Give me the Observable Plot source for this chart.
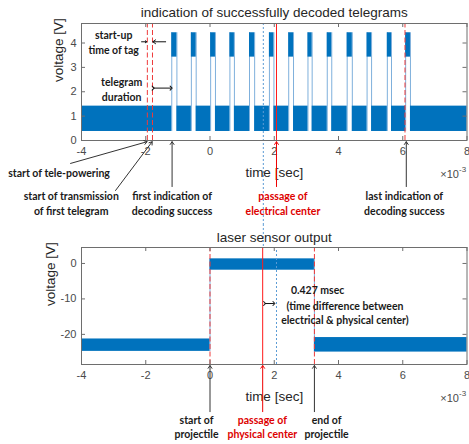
<!DOCTYPE html>
<html><head><meta charset="utf-8">
<script src="https://cdn.jsdelivr.net/npm/d3@7"></script>
<script src="https://cdn.jsdelivr.net/npm/@observablehq/plot@0.6"></script>
<style>body{margin:0;background:#fff} svg{display:block}</style>
</head><body><div id="c"></div>
<script>
// ---- data (time in units of 1e-3 s) ----
const xTicks = [-4, -2, 0, 2, 4, 6, 8];
const topYTicks = [0, 1, 2, 3, 4];
const botYTicks = [-20, -10, 0];
const topTitle = "indication of successfully decoded telegrams";
const botTitle = "laser sensor output";
const xLabel = "time [sec]";
const yLabel = "voltage [V]";

// top: decoded-telegram indication pulses
const pulseStart = [-1.19, -0.58, 0.02, 0.62, 1.23, 1.85, 2.45, 3.05, 3.65, 4.27, 4.89, 5.52, 6.09];
const pulseEnd   = [-1.03, -0.43, 0.17, 0.76, 1.39, 1.99, 2.60, 3.18, 3.79, 4.43, 5.03, 5.65, 6.24];
const lowBand  = [0.37, 1.41];   // noisy idle level (min, max)
const highBand = [3.42, 4.42];   // noisy indication level (min, max)

// bottom: laser sensor output segments
const laserStart = [-4, 0, 3.25];
const laserEnd   = [0, 3.25, 8];
const laserMin   = [-24.8, -1.9, -25.0];
const laserMax   = [-21.3, 1.3, -20.9];

// markers
const topRedDashed = [-1.95, -1.79, 6.07];
const topRedSolid = [2.07];
const topBlueDotted = [1.66];
const botRedDashed = [0, 3.25];
const botRedSolid = [1.64];
const botBlueDotted = [2.07];

// annotations
const topNotes = [
  {text: "start of tele-powering", x: -4.70, y: -1.30, c: "#1a1a1a"},
  {text: "start of transmission\nof first telegram", x: -4.32, y: -2.56, c: "#1a1a1a"},
  {text: "first indication of\ndecoding success", x: -1.18, y: -2.56, c: "#1a1a1a"},
  {text: "passage of\nelectrical center", x: 2.27, y: -2.56, c: "#dd0000"},
  {text: "last indication of\ndecoding success", x: 6.05, y: -2.56, c: "#1a1a1a"},
  {text: "start-up\ntime of tag", x: -3.00, y: 4.04, c: "#1a1a1a"},
  {text: "telegram\nduration", x: -2.75, y: 2.11, c: "#1a1a1a"}
];
const topArrows = [
  {x1: -4.34, y1: -0.94, x2: -1.96, y2: -0.05, c: "#333"},
  {x1: -2.94, y1: -2.05, x2: -1.80, y2: -0.05, c: "#333"},
  {x1: -1.18, y1: -1.89, x2: -1.18, y2: -0.05, c: "#333"},
  {x1: 2.07, y1: -1.89, x2: 2.07, y2: -0.05, c: "#ee0000"},
  {x1: 6.11, y1: -1.89, x2: 6.11, y2: -0.05, c: "#333"},
  {x1: -2.13, y1: 4.05, x2: -1.97, y2: 4.05, c: "#111"},
  {x1: -1.38, y1: 4.05, x2: -1.78, y2: 4.05, c: "#111"}
];
const topDouble = [{x1: -1.77, x2: -1.21, y: 2.15}];

const botNotes = [
  {text: "0.427 msec", x: 3.35, y: -7.4, c: "#1a1a1a", a: "start"},
  {text: "(time difference between\nelectrical & physical center)", x: 4.20, y: -13.75, c: "#1a1a1a", a: "middle"},
  {text: "start of\nprojectile", x: -0.42, y: -45.9, c: "#1a1a1a", a: "middle"},
  {text: "passage of\nphysical center", x: 1.63, y: -45.9, c: "#dd0000", a: "middle"},
  {text: "end of\nprojectile", x: 3.63, y: -45.9, c: "#1a1a1a", a: "middle"}
];
const botArrows = [
  {x1: 0, y1: -41.8, x2: 0, y2: -28.8, c: "#333"},
  {x1: 1.64, y1: -41.8, x2: 1.64, y2: -28.8, c: "#ee0000"},
  {x1: 3.25, y1: -41.8, x2: 3.25, y2: -28.8, c: "#333"}
];
const botDouble = [{x1: 1.70, x2: 1.99, y: -11.3}];

// ---- styles ----
const W = 469;
const ML = 81, MR = 2.5;
const BLUE = "#0072BD", EDGE = "#7fb0dc", FRAME = "#6e6e6e", TICKTXT = "#4a4a4a", TXT = "#262626";
const noteFont = "Lato, 'Open Sans', sans-serif";
const fw = W - ML - MR;

function dashed(vals, y1, y2) {
  return Plot.ruleX(vals, {x: d => d, y1, y2, stroke: "#ee3b3b", strokeWidth: 1, strokeDasharray: "5,2.5"});
}

function commonAxes(yTicks, fh) {
  return [
    Plot.frame({stroke: FRAME, strokeWidth: 1}),
    Plot.tickX(xTicks, {x: d => d, insetTop: fh - 4, stroke: FRAME}),
    Plot.tickX(xTicks, {x: d => d, insetBottom: fh - 4, stroke: FRAME}),
    Plot.tickY(yTicks, {y: d => d, insetRight: fw - 4, stroke: FRAME}),
    Plot.tickY(yTicks, {y: d => d, insetLeft: fw - 4, stroke: FRAME}),
    Plot.axisX(xTicks, {anchor: "bottom", tickSize: 0, tickPadding: 7, tickFormat: d => String(d), fill: TICKTXT, label: null, fontSize: 11}),
    Plot.axisY(yTicks, {anchor: "left", tickSize: 0, tickPadding: 5, tickFormat: d => String(d), fill: TICKTXT, label: null, fontSize: 11}),
    Plot.text([xLabel], {frameAnchor: "bottom", lineAnchor: "middle", dy: 32, fill: TXT, fontSize: 13.5, text: d => d}),
    Plot.text(["×10"], {frameAnchor: "bottom-right", lineAnchor: "middle", dx: -8, dy: 34, textAnchor: "end", fill: TICKTXT, fontSize: 11, text: d => d}),
    Plot.text(["-3"], {frameAnchor: "bottom-right", lineAnchor: "middle", dx: -8, dy: 29, textAnchor: "start", fill: TICKTXT, fontSize: 8, text: d => d})
  ];
}

// ---------- TOP ----------
const lowSegs = [{x1: -4, x2: pulseStart[0]}];
pulseStart.forEach((s, i) => lowSegs.push({x1: pulseEnd[i], x2: i + 1 < pulseStart.length ? pulseStart[i + 1] : 8}));
const highSegs = pulseStart.map((s, i) => ({x1: s, x2: pulseEnd[i]}));
const edges = pulseStart.concat(pulseEnd);

const topH = 224, topMT = 23, topMB = 84;
const topFH = topH - topMT - topMB;
const chartTop = Plot.plot({
  width: W, height: topH,
  marginLeft: ML, marginRight: MR, marginTop: topMT, marginBottom: topMB,
  style: {fontFamily: "'Liberation Sans', Arial, sans-serif", fontSize: "11px", background: "#fff"},
  x: {domain: [-4, 8]},
  y: {domain: [0, 4.8]},
  marks: [
    Plot.ruleX(edges, {x: d => d, y1: lowBand[0], y2: highBand[1], stroke: EDGE, strokeWidth: 1}),
    Plot.rect(lowSegs, {x1: "x1", x2: "x2", y1: lowBand[0], y2: lowBand[1], fill: BLUE}),
    Plot.rect(highSegs, {x1: "x1", x2: "x2", y1: highBand[0], y2: highBand[1], fill: BLUE}),
    Plot.ruleX(topBlueDotted, {x: d => d, y1: 4.8, y2: -3.5, stroke: "#5b9bd5", strokeWidth: 1, strokeDasharray: "2,2"}),
    dashed(topRedDashed, 0, 4.8),
    Plot.ruleX(topRedSolid, {x: d => d, y1: 0, y2: 4.8, stroke: "#ff1a1a", strokeWidth: 1}),
    ...commonAxes(topYTicks, topFH),
    Plot.text([yLabel], {frameAnchor: "left", dx: -23, rotate: -90, fill: TXT, fontSize: 13.5, text: d => d}),
    Plot.text([topTitle], {frameAnchor: "top", lineAnchor: "middle", dy: -11, fill: TXT, fontSize: 13.5, text: d => d}),
    Plot.arrow(topArrows, {x1: "x1", y1: "y1", x2: "x2", y2: "y2", stroke: "c", strokeWidth: 1, headLength: 5, headAngle: 70}),
    Plot.link(topDouble, {x1: "x1", x2: "x2", y1: "y", y2: "y", stroke: "#111", strokeWidth: 1, markerStart: "arrow", markerEnd: "arrow"}),
    Plot.text(topNotes, {x: "x", y: "y", text: "text", fill: "c", fontFamily: noteFont, fontSize: 10.5, fontWeight: "bold", lineHeight: 1.42})
  ]
});

// ---------- BOTTOM ----------
const laserSegs = laserStart.map((s, i) => ({x1: s, x2: laserEnd[i], y1: laserMin[i], y2: laserMax[i]}));
const botH = 220, botMT = 23, botMB = 80;
const botFH = botH - botMT - botMB;
const chartBottom = Plot.plot({
  width: W, height: botH,
  marginLeft: ML, marginRight: MR, marginTop: botMT, marginBottom: botMB,
  style: {fontFamily: "'Liberation Sans', Arial, sans-serif", fontSize: "11px", background: "#fff"},
  x: {domain: [-4, 8]},
  y: {domain: [-28.5, 4.5]},
  marks: [
    Plot.ruleX([laserEnd[0], laserEnd[1]], {x: d => d, y1: -24.8, y2: 1.3, stroke: EDGE, strokeWidth: 1}),
    Plot.rect(laserSegs, {x1: "x1", x2: "x2", y1: "y1", y2: "y2", fill: BLUE}),
    Plot.ruleX(topBlueDotted, {x: d => d, y1: 11.0, y2: 4.5, stroke: "#5b9bd5", strokeWidth: 1, strokeDasharray: "2,2"}),
    Plot.ruleX(botBlueDotted, {x: d => d, y1: -28.5, y2: 4.5, stroke: "#5b9bd5", strokeWidth: 1, strokeDasharray: "2,2"}),
    dashed(botRedDashed, -28.5, 4.5),
    Plot.ruleX(botRedSolid, {x: d => d, y1: -28.5, y2: 4.5, stroke: "#ff1a1a", strokeWidth: 1}),
    ...commonAxes(botYTicks, botFH),
    Plot.text([yLabel], {frameAnchor: "left", dx: -31, rotate: -90, fill: TXT, fontSize: 13.5, text: d => d}),
    Plot.text([botTitle], {frameAnchor: "top", lineAnchor: "middle", dy: -10, fill: TXT, fontSize: 13.5, text: d => d}),
    Plot.arrow(botArrows, {x1: "x1", y1: "y1", x2: "x2", y2: "y2", stroke: "c", strokeWidth: 1, headLength: 5, headAngle: 70}),
    Plot.link(botDouble, {x1: "x1", x2: "x2", y1: "y", y2: "y", stroke: "#111", strokeWidth: 1, markerStart: "arrow", markerEnd: "arrow"}),
    Plot.text(botNotes, {x: "x", y: "y", text: "text", fill: "c", textAnchor: "a", fontFamily: noteFont, fontSize: 10.5, fontWeight: "bold", lineHeight: 1.42})
  ]
});

document.getElementById("c").append(chartTop, chartBottom);
</script>
</body></html>
